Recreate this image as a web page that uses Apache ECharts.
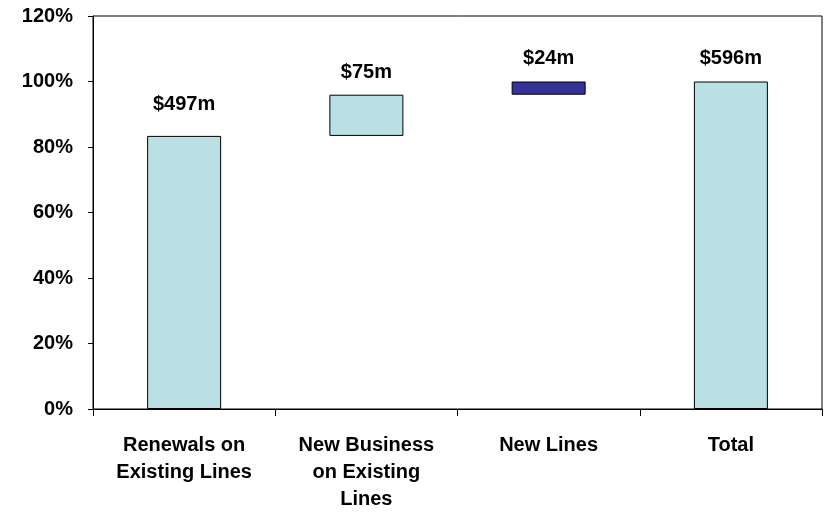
<!DOCTYPE html>
<html>
<head>
<meta charset="utf-8">
<script src="https://cdn.jsdelivr.net/npm/echarts@6/dist/echarts.min.js"></script>
<style>
  html, body { margin: 0; padding: 0; background: #fff; }
  #chart { width: 825px; height: 513px; }
</style>
</head>
<body>
<div id="chart"></div>
<script>
// Premium build-up, $m
const categories = ['Renewals on\nExisting Lines', 'New Business\non Existing\nLines', 'New Lines', 'Total'];
const amounts = [497, 75, 24, 596];
const isTotal = [false, false, false, true];
const yTicks = [0, 20, 40, 60, 80, 100, 120];

const LIGHT = '#BBE0E3';
const DARK = '#333399';
const barColors = [LIGHT, LIGHT, DARK, LIGHT];
const labelGap = [21, 12, 13, 13];

const grand = amounts[amounts.length - 1];
const baseData = [];
const stepData = [];
let running = 0;
amounts.forEach((v, i) => {
  const pct = v / grand * 100;
  if (isTotal[i]) {
    baseData.push(0);
    stepData.push(pct);
  } else {
    baseData.push(running);
    stepData.push(pct);
    running += pct;
  }
});

const font = { fontFamily: '"Liberation Sans", Arial, sans-serif', fontWeight: 'bold', fontSize: 20, color: '#000' };

const chart = echarts.init(document.getElementById('chart'), null, { renderer: 'canvas' });
chart.setOption({
  animation: false,
  grid: { left: 93, right: 3, top: 16, bottom: 98, show: true, borderColor: '#000', borderWidth: 1, backgroundColor: 'transparent' },
  xAxis: {
    type: 'category',
    data: categories,
    axisLine: { lineStyle: { color: '#000', width: 1 } },
    axisTick: { show: true, length: 7, alignWithLabel: false, lineStyle: { color: '#000' } },
    axisLabel: Object.assign({ interval: 0, margin: 23, lineHeight: 27 }, font)
  },
  yAxis: {
    type: 'value',
    min: yTicks[0],
    max: yTicks[yTicks.length - 1],
    interval: 20,
    axisLine: { show: true, lineStyle: { color: '#000', width: 1 } },
    axisTick: { show: true, length: 5, lineStyle: { color: '#000' } },
    splitLine: { show: false },
    axisLabel: Object.assign({ margin: 20, formatter: v => v + '%' }, font)
  },
  series: [
    {
      name: 'base',
      type: 'bar',
      stack: 'w',
      data: baseData,
      barWidth: 74,
      itemStyle: { color: 'transparent', borderWidth: 0 },
      silent: true
    },
    {
      name: 'step',
      type: 'bar',
      stack: 'w',
      barWidth: 74,
      data: stepData.map((v, i) => ({
        value: v,
        itemStyle: { color: barColors[i], borderColor: '#000', borderWidth: 1 },
        label: {
          show: true,
          position: 'top',
          distance: labelGap[i],
          formatter: '$' + amounts[i] + 'm'
        }
      })),
      label: Object.assign({}, font)
    }
  ]
});
</script>
</body>
</html>
